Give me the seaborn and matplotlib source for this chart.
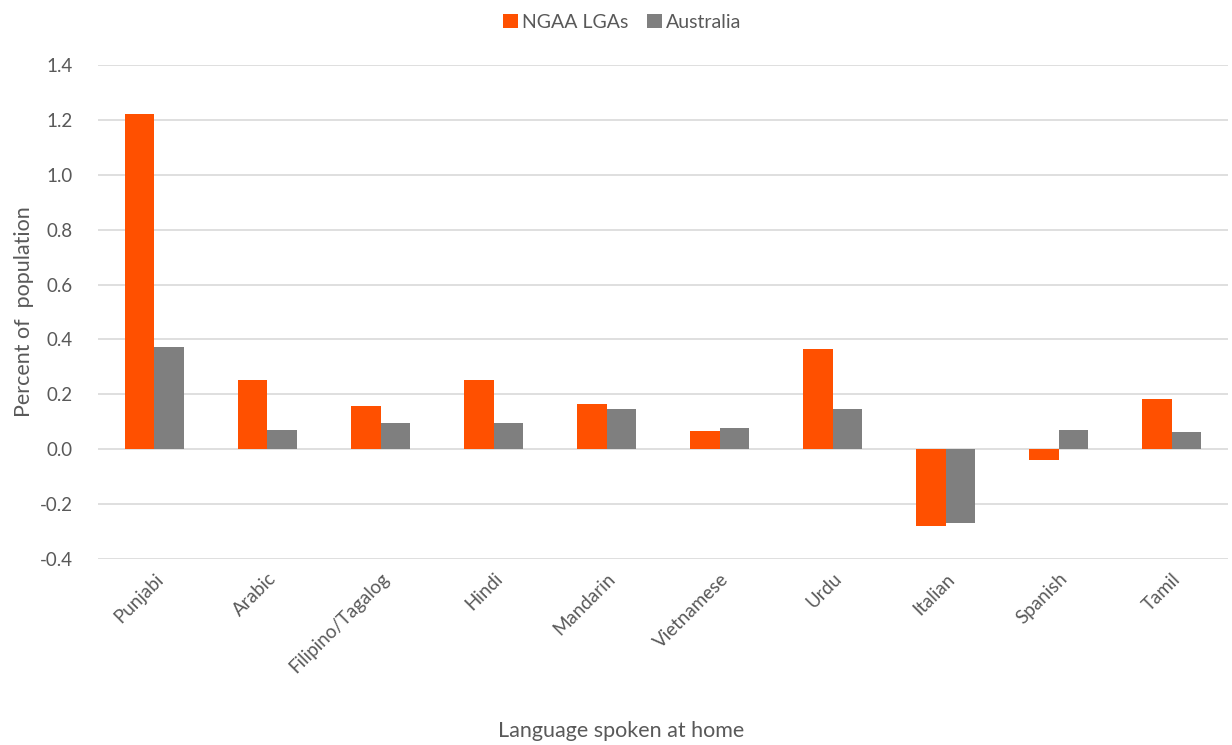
import numpy as np
import pandas as pd
import matplotlib
matplotlib.use("Agg")
import matplotlib.pyplot as plt
import seaborn as sns
from matplotlib.patches import Patch

languages = ["Punjabi", "Arabic", "Filipino/Tagalog", "Hindi", "Mandarin",
             "Vietnamese", "Urdu", "Italian", "Spanish", "Tamil"]
ngaa_lgas = [1.221, 0.251, 0.157, 0.251, 0.164, 0.066, 0.364, -0.281, -0.040, 0.182]
australia = [0.372, 0.069, 0.095, 0.095, 0.146, 0.077, 0.146, -0.270, 0.069, 0.062]
series_names = ["NGAA LGAs", "Australia"]
y_ticks = [-0.4, -0.2, 0.0, 0.2, 0.4, 0.6, 0.8, 1.0, 1.2, 1.4]

df = pd.DataFrame({
    "Language": languages * 2,
    "Series": [series_names[0]] * len(languages) + [series_names[1]] * len(languages),
    "Value": ngaa_lgas + australia,
})

sns.set_theme(style="white")
plt.rcParams["font.family"] = ["Lato", "DejaVu Sans"]
text_color = "#595959"

fig = plt.figure(figsize=(12.32, 7.45), dpi=100)
ax = fig.add_axes([0.0795, 0.2497, 0.9175, 0.6631])

palette = {"NGAA LGAs": "#FF5000", "Australia": "#7F7F7F"}
sns.barplot(data=df, x="Language", y="Value", hue="Series", palette=palette,
            width=0.52, gap=0, saturation=1, ax=ax, legend=False,
            edgecolor="none", linewidth=0)

ax.set_ylim(-0.4, 1.4)
ax.set_xlim(-0.5, len(languages) - 0.5)
ax.set_yticks(y_ticks)
ax.set_yticklabels([f"{t:.1f}" for t in y_ticks])
ax.yaxis.grid(True, color="#D9D9D9", linewidth=1.2)
ax.set_axisbelow(True)
for s in ax.spines.values():
    s.set_visible(False)
ax.tick_params(axis="y", length=0, pad=18, labelsize=13.5, labelcolor=text_color)
ax.tick_params(axis="x", length=0, pad=8, labelsize=13.5, labelcolor=text_color)
for lbl in ax.get_xticklabels():
    lbl.set_rotation(45)
    lbl.set_ha("right")
    lbl.set_rotation_mode("anchor")

ax.set_xlabel("Language spoken at home", fontsize=15.5, color=text_color, va="center")
ax.set_ylabel("Percent of  population", fontsize=15.5, color=text_color, va="center")
ax.xaxis.set_label_coords(0.463, -0.348)
ax.yaxis.set_label_coords(-0.0655, 0.5)

handles = [Patch(facecolor=palette[n], edgecolor="none") for n in series_names]
fig.legend(handles, series_names, loc="upper center", ncol=2, frameon=False,
           bbox_to_anchor=(0.505, 1.005), fontsize=14, labelcolor=text_color,
           handlelength=0.75, handleheight=0.75, handletextpad=0.2, columnspacing=1.0)

fig.savefig("out.png", dpi=100, facecolor="white")
